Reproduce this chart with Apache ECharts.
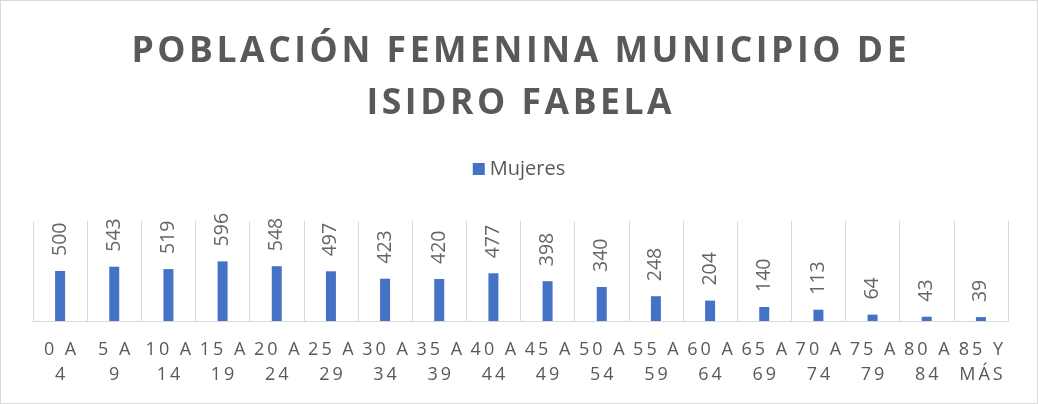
<!DOCTYPE html>
<html>
<head>
<meta charset="utf-8">
<script src="https://cdn.jsdelivr.net/npm/echarts@6/dist/echarts.min.js"></script>
<style>
  html, body { margin: 0; padding: 0; background: #fff; }
  #chart { width: 1038px; height: 404px; box-sizing: border-box; border: 1px solid #d9d9d9; }
</style>
</head>
<body>
<div id="chart"></div>
<script>
// datos
const categories = ['0 A 4', '5 A 9', '10 A 14', '15 A 19', '20 A 24', '25 A 29', '30 A 34', '35 A 39',
  '40 A 44', '45 A 49', '50 A 54', '55 A 59', '60 A 64', '65 A 69', '70 A 74', '75 A 79', '80 A 84', '85 Y MÁS']
const mujeres = [500, 543, 519, 596, 548, 497, 423, 420, 477, 398, 340, 248, 204, 140, 113, 64, 43, 39]
const titleLines = ['POBLACIÓN FEMENINA MUNICIPIO DE', 'ISIDRO FABELA']

// espaciado entre letras (estilo Excel)
const spaced = (s, sp) => s.split('').join(sp)

const chart = echarts.init(document.getElementById('chart'))

const option = {
  animation: false,
  textStyle: { fontFamily: 'Open Sans' },
  title: {
    text: titleLines.map(l => spaced(l, '\u200A')).join('\n'),
    left: 'center',
    top: 20,
    textStyle: {
      fontFamily: 'Open Sans',
      fontWeight: 'bold',
      fontSize: 35.5,
      lineHeight: 52,
      color: '#595959'
    }
  },
  legend: {
    top: 153,
    left: 'center',
    itemWidth: 12,
    itemHeight: 12,
    itemGap: 6,
    icon: 'rect',
    textStyle: { fontSize: 20, color: '#595959', fontFamily: 'Open Sans' },
    data: ['Mujeres']
  },
  grid: {
    left: 32,
    right: 29,
    top: 220,
    bottom: 82,
    containLabel: false
  },
  xAxis: {
    type: 'category',
    data: categories,
    axisLine: { lineStyle: { color: '#d9d9d9', width: 1 } },
    axisTick: { show: false },
    splitLine: { show: true, lineStyle: { color: '#d9d9d9', width: 1 } },
    axisLabel: {
      interval: 0,
      margin: 16,
      fontSize: 18,
      lineHeight: 25,
      color: '#595959',
      formatter: v => {
        const i = v.lastIndexOf(' ')
        return spaced(v.slice(0, i), '\u2009') + '\n' + spaced(v.slice(i + 1), '\u2009')
      }
    }
  },
  yAxis: {
    type: 'value',
    min: 0,
    max: 1000,
    show: false,
    splitLine: { show: false }
  },
  series: [{
    name: 'Mujeres',
    type: 'bar',
    data: mujeres,
    barWidth: 10,
    itemStyle: { color: '#4472c4' },
    label: {
      show: true,
      position: 'top',
      distance: 15,
      rotate: 90,
      align: 'left',
      verticalAlign: 'middle',
      fontSize: 19.5,
      color: '#666666'
    }
  }]
}

chart.setOption(option)
</script>
</body>
</html>
